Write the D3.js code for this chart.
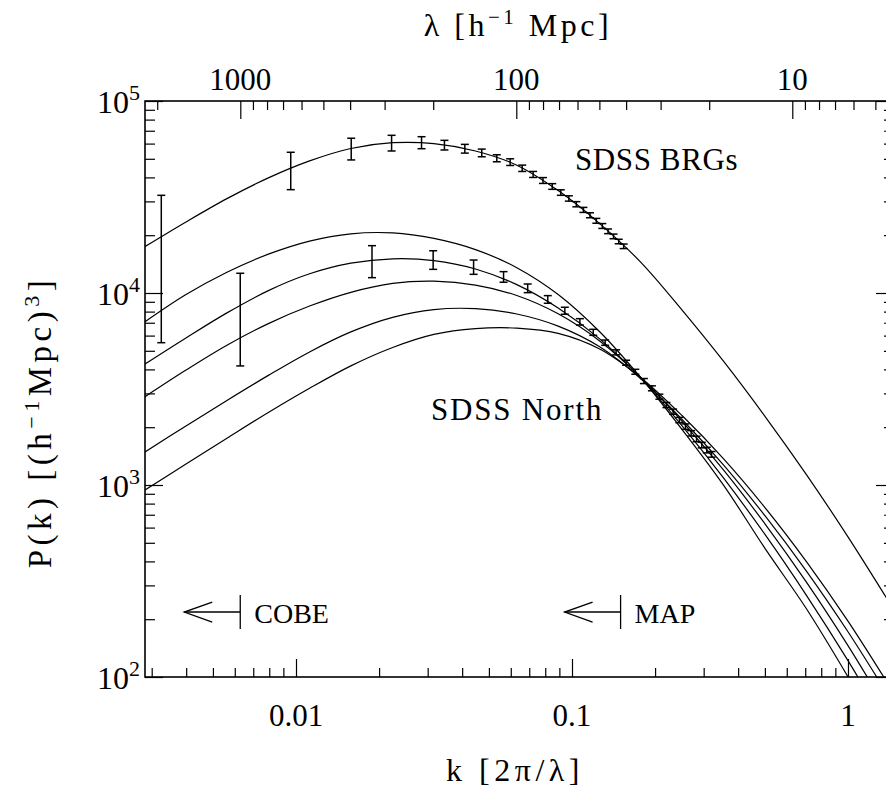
<!DOCTYPE html>
<html>
<head>
<meta charset="utf-8">
<script src="https://cdnjs.cloudflare.com/ajax/libs/d3/7.8.5/d3.min.js"></script>
<style>
  body { margin: 0; background: #fff; }
  svg { display: block; }
  text { font-family: "Liberation Serif", "Times New Roman", serif; fill: #000; }
</style>
</head>
<body>
<svg id="chart" width="886" height="788"></svg>
<script>
// Wavenumbers at which the model spectra are tabulated [h/Mpc]
const kModel = [0.00282, 0.00398, 0.00562, 0.00794, 0.0112, 0.0158, 0.0224, 0.0316, 0.0447, 0.0631, 0.0891, 0.126, 0.178, 0.251, 0.355, 0.501, 0.708, 1.0, 1.41];

// Model power spectra P(k) [(Mpc/h)^3]
const pModelBRG    = [17360, 23380, 31020, 39770, 48750, 56570, 60640, 60000, 54900, 46310, 34140, 22990, 14400, 8120, 4387, 2272, 1129, 537, 245];
const pModelNorthA = [7038, 9786, 12830, 15930, 18640, 20340, 20560, 19250, 16830, 13550, 9822, 6280, 3608, 1939, 993, 466, 226, 100.2, 42.4];
const pModelNorthB = [4243, 5815, 7878, 10290, 12590, 14300, 15070, 14750, 13340, 11060, 8354, 5768, 3595, 2027, 1083, 551, 265.5, 121.7, 52.9];
const pModelNorthC = [2866, 3957, 5348, 6928, 8550, 10080, 11220, 11520, 10990, 9705, 7793, 5629, 3622, 2139, 1191, 626, 311, 145.7, 64.5];
const pModelNorthD = [1477, 2025, 2758, 3723, 4934, 6272, 7470, 8196, 8285, 7776, 6724, 5246, 3565, 2188, 1266, 690, 355, 172, 78.6];
const pModelNorthE = [936, 1283, 1753, 2386, 3189, 4173, 5202, 6085, 6525, 6564, 6161, 5104, 3612, 2293, 1364, 761, 398, 195.5, 90.1];

// SDSS bright red galaxies: band powers with 1-sigma errors
const kBRG = [0.00325, 0.00957, 0.01585, 0.0222, 0.0285, 0.0345, 0.0409, 0.0471, 0.0534, 0.0597, 0.0660, 0.0723, 0.0785, 0.0848, 0.0911, 0.0974, 0.1037, 0.1100, 0.1162, 0.1225, 0.1288, 0.1351, 0.1414, 0.1477, 0.1539];
const pBRG = [18890, 44300, 56650, 60590, 60800, 58980, 56490, 53700, 50360, 48080, 44650, 41470, 38560, 35890, 33370, 31090, 29010, 27100, 25410, 23780, 22340, 20960, 19720, 18550, 17510];
const sBRG = [13380, 9770, 7330, 5680, 4370, 3410, 2960, 2470, 2115, 1925, 1700, 1495, 1350, 1220, 1100, 995, 900, 815, 760, 690, 650, 585, 550, 500, 475];

// SDSS North main sample: band powers with 1-sigma errors
const kNorth = [0.00628, 0.01885, 0.0314, 0.0440, 0.0565, 0.0691, 0.0817, 0.0942, 0.1068, 0.1194, 0.1319, 0.1445, 0.1571, 0.1696, 0.1822, 0.1948, 0.2073, 0.2199, 0.2325, 0.2450, 0.2576, 0.2702, 0.2827, 0.2953, 0.3079, 0.3204];
const pNorth = [8420, 14830, 14940, 13680, 12150, 10590, 9265, 8090, 7080, 6245, 5515, 4910, 4335, 3890, 3480, 3190, 2885, 2610, 2410, 2180, 2015, 1860, 1738, 1615, 1521, 1445];
const sNorth = [4250, 2810, 1660, 1170, 770, 550, 425, 340, 270, 225, 175, 150, 130, 115, 105, 95, 87, 80, 75, 70, 65, 60, 57, 54, 51, 49];

// Axis ticks and labels
const kTicks = [0.01, 0.1, 1];
const kTickLabels = ["0.01", "0.1", "1"];
const lambdaTicks = [1000, 100, 10];
const lambdaTickLabels = ["1000", "100", "10"];
const pTicks = [100, 1000, 10000, 100000];
const pTickExponents = ["2", "3", "4", "5"];

// Experiment limits: largest k probed, with an arrow towards large scales
const limitNames = ["COBE", "MAP"];
const limitK = [0.00628, 0.15];
const limitP = 218;

// ---------------------------------------------------------------
const svg = d3.select("#chart");
const boxL = 145, boxR = 894, boxT = 101, boxB = 677;

const x = d3.scaleLog().domain([0.002837, 1.468]).range([boxL, boxR]);
const y = d3.scaleLog().domain([100, 1e5]).range([boxB, boxT]);
// wavelength axis: lambda = 2 pi / k
const xl = d3.scaleLog().domain([2 * Math.PI / 0.002837, 2 * Math.PI / 1.468]).range([boxL, boxR]);

svg.append("defs").append("clipPath").attr("id", "plotclip")
  .append("rect").attr("x", boxL).attr("y", boxT).attr("width", boxR - boxL).attr("height", boxB - boxT);

// --- tick marks (all pointing into the box) ---
function styleAxis(g) {
  g.select(".domain").remove();
  g.selectAll(".tick line").attr("stroke", "#000").attr("stroke-width", 1.2);
  g.selectAll(".tick text").remove();
}
const isMajor = (list, v) => list.some(t => Math.abs(t - v) / t < 1e-6);
const xMinor = x.ticks().filter(v => !isMajor(kTicks, v));
const yMinor = y.ticks().filter(v => !isMajor(pTicks, v));
const lMinor = xl.ticks().filter(v => !isMajor(lambdaTicks, v));

svg.append("g").attr("transform", `translate(0,${boxB})`)
  .call(d3.axisTop(x).tickValues(kTicks).tickSize(18)).call(styleAxis);
svg.append("g").attr("transform", `translate(0,${boxB})`)
  .call(d3.axisTop(x).tickValues(xMinor).tickSize(9)).call(styleAxis);
svg.append("g").attr("transform", `translate(0,${boxT})`)
  .call(d3.axisBottom(xl).tickValues(lambdaTicks).tickSize(18)).call(styleAxis);
svg.append("g").attr("transform", `translate(0,${boxT})`)
  .call(d3.axisBottom(xl).tickValues(lMinor).tickSize(9)).call(styleAxis);
svg.append("g").attr("transform", `translate(${boxL},0)`)
  .call(d3.axisRight(y).tickValues(pTicks).tickSize(18)).call(styleAxis);
svg.append("g").attr("transform", `translate(${boxL},0)`)
  .call(d3.axisRight(y).tickValues(yMinor).tickSize(10)).call(styleAxis);
svg.append("g").attr("transform", `translate(${boxR},0)`)
  .call(d3.axisLeft(y).tickValues(pTicks).tickSize(18)).call(styleAxis);
svg.append("g").attr("transform", `translate(${boxR},0)`)
  .call(d3.axisLeft(y).tickValues(yMinor).tickSize(10)).call(styleAxis);

svg.append("rect").attr("x", boxL).attr("y", boxT).attr("width", boxR - boxL).attr("height", boxB - boxT)
  .attr("fill", "none").attr("stroke", "#000").attr("stroke-width", 1.6);

// --- tick labels ---
const fs = 31;
svg.append("g").selectAll("text").data(kTicks).join("text")
  .attr("x", d => x(d)).attr("y", 726).attr("text-anchor", "middle").attr("font-size", fs)
  .text((d, i) => kTickLabels[i]);
svg.append("g").selectAll("text").data(lambdaTicks).join("text")
  .attr("x", d => xl(d)).attr("y", 90).attr("text-anchor", "middle").attr("font-size", fs)
  .text((d, i) => lambdaTickLabels[i]);
const yl = svg.append("g").selectAll("text").data(pTicks).join("text")
  .attr("x", 140).attr("y", d => y(d) + 12).attr("text-anchor", "end").attr("font-size", 32);
yl.append("tspan").text("10");
yl.append("tspan").attr("dy", -13).attr("font-size", 22).text((d, i) => pTickExponents[i]);

// --- axis titles ---
const tTop = svg.append("text").attr("x", 518).attr("y", 36).attr("text-anchor", "middle")
  .attr("font-size", 32).attr("letter-spacing", 3.5);
tTop.append("tspan").text("λ  [h");
tTop.append("tspan").attr("dy", -12).attr("font-size", 21).text("−1");
tTop.append("tspan").attr("dy", 12).text(" Mpc]");

svg.append("text").attr("x", 515).attr("y", 781).attr("text-anchor", "middle")
  .attr("font-size", 32).attr("letter-spacing", 4.5).text("k [2π/λ]");

const tY = svg.append("text").attr("transform", "translate(51,422) rotate(-90)")
  .attr("text-anchor", "middle").attr("font-size", 33).attr("letter-spacing", 4.5);
tY.append("tspan").text("P(k) [(h");
tY.append("tspan").attr("dy", -12).attr("font-size", 22).text("−1");
tY.append("tspan").attr("dy", 12).text("Mpc)");
tY.append("tspan").attr("dy", -12).attr("font-size", 22).text("3");
tY.append("tspan").attr("dy", 12).text("]");

// --- model curves ---
const plot = svg.append("g").attr("clip-path", "url(#plotclip)");
const line = d3.line().x(d => x(d[0])).y(d => y(d[1])).curve(d3.curveCatmullRom.alpha(0.5));
[pModelBRG, pModelNorthA, pModelNorthB, pModelNorthC, pModelNorthD, pModelNorthE].forEach(p => {
  plot.append("path").datum(kModel.map((k, i) => [k, p[i]]))
    .attr("d", line).attr("fill", "none").attr("stroke", "#000").attr("stroke-width", 1.2);
});

// --- error bars ---
function errorBars(ks, ps, ss) {
  const g = plot.append("g").attr("stroke", "#000").attr("stroke-width", 1.5).attr("fill", "none");
  const cap = 4;
  ks.forEach((k, i) => {
    const xx = x(k), y1 = y(ps[i] + ss[i]), y2 = y(Math.max(ps[i] - ss[i], 1));
    g.append("line").attr("x1", xx).attr("x2", xx).attr("y1", y1).attr("y2", y2);
    g.append("line").attr("x1", xx - cap).attr("x2", xx + cap).attr("y1", y1).attr("y2", y1);
    g.append("line").attr("x1", xx - cap).attr("x2", xx + cap).attr("y1", y2).attr("y2", y2);
  });
}
errorBars(kBRG, pBRG, sBRG);
errorBars(kNorth, pNorth, sNorth);

// --- sample names ---
svg.append("text").attr("x", 575).attr("y", 170).attr("font-size", 31).attr("letter-spacing", 0.6).text("SDSS BRGs");
svg.append("text").attr("x", 431).attr("y", 420).attr("font-size", 31).attr("letter-spacing", 1.8).text("SDSS North");

// --- experiment limits ---
limitNames.forEach((name, i) => {
  const bx = x(limitK[i]), by = y(limitP);
  const g = svg.append("g").attr("stroke", "#000").attr("stroke-width", 1.3).attr("fill", "none");
  g.append("line").attr("x1", bx).attr("x2", bx).attr("y1", by - 17).attr("y2", by + 17);
  g.append("line").attr("x1", bx).attr("x2", bx - 56).attr("y1", by).attr("y2", by);
  g.append("path").attr("d", `M${bx - 28},${by - 10}L${bx - 56},${by}L${bx - 28},${by + 10}`);
  svg.append("text").attr("x", bx + 14).attr("y", by + 11).attr("font-size", 28).text(name);
});
</script>
</body>
</html>
